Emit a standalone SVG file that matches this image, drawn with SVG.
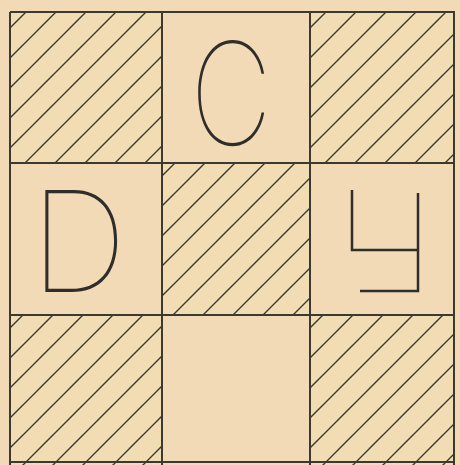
<svg xmlns="http://www.w3.org/2000/svg" width="460" height="465" viewBox="0 0 460 465">
<style>
.bg{fill:#f3dab6}
.cell{fill:#f3dab6}
.hatch{fill:url(#h)}
.grid{fill:none;stroke:#3b3a30;stroke-width:2}
.lt{font-family:Inter,"Liberation Sans",sans-serif;font-weight:100;fill:#2e2e2a}
.sym{fill:none;stroke:#2e2e2a;stroke-width:2.5}
</style>
<defs>
<pattern id="h" patternUnits="userSpaceOnUse" width="30" height="30" patternTransform="translate(8 0)">
<rect width="30" height="30" fill="#f1dcb3"/>
<path d="M-5 35 L35 -5 M-35 35 L5 -5 M25 35 L65 -5" stroke="#3b3a30" stroke-width="1.4"/>
</pattern>
</defs>
<rect class="bg" width="460" height="465"/>
<g id="cells">
<rect id="c11" class="hatch" x="10" y="12" width="152" height="151"/>
<rect id="c12" class="cell" x="162" y="12" width="148" height="151"/>
<rect id="c13" class="hatch" x="310" y="12" width="144" height="151"/>
<rect id="c21" class="cell" x="10" y="163" width="152" height="152"/>
<rect id="c22" class="hatch" x="162" y="163" width="148" height="152"/>
<rect id="c23" class="cell" x="310" y="163" width="144" height="152"/>
<rect id="c31" class="hatch" x="10" y="315" width="152" height="150"/>
<rect id="c32" class="cell" x="162" y="315" width="148" height="150"/>
<rect id="c33" class="hatch" x="310" y="315" width="144" height="150"/>
</g>
<g id="grid">
<path class="grid" d="M10 12 H454 V465 M10 12 V465 M162 12 V465 M310 12 V465 M10 163 H454 M10 315 H454 M10 462 H454"/>
</g>
<g id="labels">
<text class="lt" x="0" y="0" font-size="142" transform="translate(190 145) scale(0.8 1)">C</text>
<text class="lt" x="0" y="0" font-size="140" transform="translate(30 292) scale(0.97 1)">D</text>
<polyline class="sym" points="352,190 352,250 418,250"/>
<polyline class="sym" points="418,193 418,291 360,291"/>
</g>
</svg>
